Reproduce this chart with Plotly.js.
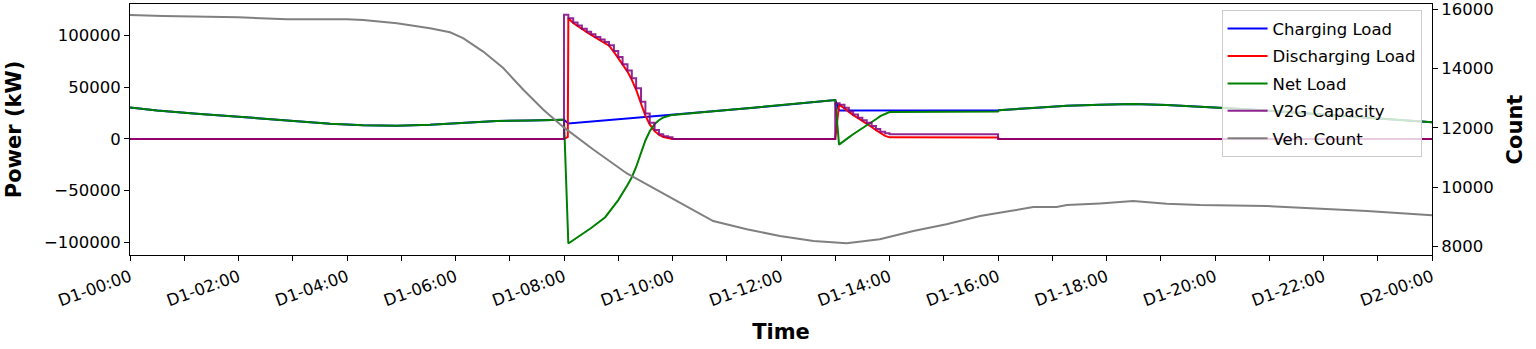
<!DOCTYPE html>
<html>
<head>
<meta charset="utf-8">
<script src="https://cdn.plot.ly/plotly-3.0.1.min.js"></script>
<style>
  html, body { margin: 0; padding: 0; background: #fff; }
  #chart { width: 1536px; height: 349px; }
</style>
</head>
<body>
<div id="chart"></div>
<script>
// time in hours from D1-00:00
const chargeHours = [0, 0.5, 1.23, 2.0, 2.46, 3.0, 3.69, 4.3, 4.92, 5.53, 6.14, 6.76, 7.37, 8.0, 8.08, 8.5, 9.0, 9.5, 10.0, 10.5, 11.0, 11.5, 12.0, 12.5, 13.0, 13.07, 13.5, 14.0, 15.0, 16.0, 16.65, 17.27, 17.88, 18.49, 19.11, 19.72, 20.34, 20.95, 21.57, 22.18, 22.8, 23.41, 24.0];
const chargeLoad = [30400, 27500, 24400, 21300, 19300, 17200, 14700, 13100, 12800, 13800, 15700, 17300, 17900, 18600, 15000, 16800, 18900, 21000, 23200, 25400, 27800, 30200, 32500, 35000, 37500, 27500, 27500, 27600, 27600, 27700, 29900, 32100, 33000, 33700, 32800, 31400, 29500, 27400, 25000, 22700, 20500, 18300, 16000];

const dischargeHours = [0, 8.0, 8.07, 8.08, 8.17, 8.25, 8.33, 8.42, 8.5, 8.58, 8.67, 8.75, 8.83, 8.92, 9.0, 9.08, 9.17, 9.25, 9.33, 9.42, 9.5, 9.58, 9.67, 9.75, 9.83, 9.92, 10.0, 13.0, 13.07, 13.17, 13.25, 13.33, 13.42, 13.5, 13.58, 13.67, 13.75, 13.83, 13.92, 14.0, 16.0, 16.02, 24.0];
const dischargeLoad = [0, 0, 2000, 116500, 112000, 109000, 106000, 103000, 100500, 98000, 95500, 93000, 90000, 84000, 78000, 71000, 65000, 57000, 47500, 34000, 22500, 14000, 7500, 4000, 1800, 800, 0, 0, 33000, 29500, 26000, 23000, 20000, 17500, 15000, 11500, 8500, 5500, 3000, 1500, 1300, 0, 0];

const netHours = [0, 0.5, 1.23, 2.0, 2.46, 3.0, 3.69, 4.3, 4.92, 5.53, 6.14, 6.76, 7.37, 8.0, 8.08, 8.5, 8.76, 9.0, 9.16, 9.25, 9.33, 9.42, 9.5, 9.58, 9.67, 9.75, 9.83, 9.92, 10.0, 10.5, 11.0, 11.5, 12.0, 12.5, 13.0, 13.07, 13.17, 13.25, 13.33, 13.42, 13.5, 13.58, 13.67, 13.75, 13.83, 13.92, 14.0, 15.0, 16.0, 16.02, 16.65, 17.27, 17.88, 18.49, 19.11, 19.72, 20.34, 20.95, 21.57, 22.18, 22.8, 23.41, 24.0];
const netLoad = [30400, 27500, 24400, 21300, 19300, 17200, 14700, 13100, 12800, 13800, 15700, 17300, 17900, 18600, -101000, -86000, -75600, -59100, -45400, -37000, -27100, -13200, -1500, 7400, 14300, 18100, 20700, 22100, 23200, 25400, 27800, 30200, 32500, 35000, 37500, -5500, -2000, 1500, 4500, 7500, 10000, 12500, 16000, 19000, 22000, 24500, 26000, 26200, 26400, 27700, 29900, 32100, 33000, 33700, 32800, 31400, 29500, 27400, 25000, 22700, 20500, 18300, 16000];

// V2G capacity is drawn as a step (value holds until the next time)
const v2gHours = [0, 8.0, 8.08, 8.17, 8.25, 8.33, 8.42, 8.5, 8.58, 8.67, 8.75, 8.83, 8.92, 9.0, 9.08, 9.17, 9.25, 9.33, 9.42, 9.5, 9.58, 9.67, 9.75, 9.83, 9.92, 10.0, 13.0, 13.08, 13.17, 13.25, 13.33, 13.42, 13.5, 13.58, 13.67, 13.75, 13.83, 13.92, 14.0, 16.0, 24.0];
const v2gCapacity = [0, 120000, 116500, 112500, 109500, 106500, 103500, 101000, 98500, 96000, 93500, 90500, 85000, 79000, 72000, 66000, 58500, 49000, 36000, 24500, 15500, 8500, 4500, 2500, 1500, 0, 34500, 33000, 30000, 26500, 23500, 20500, 18000, 15500, 12500, 9500, 7000, 5500, 4500, 0, 0];

const countHours = [0, 0.61, 2.0, 2.89, 4.0, 4.3, 4.92, 5.53, 5.9, 6.14, 6.51, 6.88, 7.25, 7.62, 7.99, 8.54, 9.16, 9.77, 10.14, 10.75, 11.37, 11.98, 12.6, 13.21, 13.82, 14.44, 15.05, 15.67, 16.22, 16.65, 17.08, 17.27, 17.88, 18.49, 19.11, 19.72, 20.95, 22.18, 22.8, 24.0];
const vehCount = [15808, 15775, 15731, 15664, 15664, 15640, 15530, 15362, 15227, 15026, 14575, 14018, 13288, 12616, 12028, 11272, 10466, 9861, 9482, 8863, 8584, 8359, 8191, 8114, 8248, 8527, 8752, 9031, 9199, 9334, 9334, 9401, 9458, 9535, 9448, 9401, 9367, 9256, 9199, 9055];

const xTickHours = [0, 1, 2, 3, 4, 5, 6, 7, 8, 9, 10, 11, 12, 13, 14, 15, 16, 17, 18, 19, 20, 21, 22, 23, 24];
const xTickLabels = ['D1-00:00', '', 'D1-02:00', '', 'D1-04:00', '', 'D1-06:00', '', 'D1-08:00', '', 'D1-10:00', '', 'D1-12:00', '', 'D1-14:00', '', 'D1-16:00', '', 'D1-18:00', '', 'D1-20:00', '', 'D1-22:00', '', 'D2-00:00'];
const powerTicks = [-100000, -50000, 0, 50000, 100000];
const powerLabels = ['\u2212100000', '\u221250000', '0', '50000', '100000'];
const countTicks = [8000, 10000, 12000, 14000, 16000];
const countLabels = ['8000', '10000', '12000', '14000', '16000'];

const font = 'DejaVu Sans, sans-serif';

function line(name, x, y, color, extra = {}) {
  return {
    type: 'scatter',
    mode: 'lines',
    name,
    x,
    y,
    legendgroup: name,
    line: { color, width: 2 },
    ...extra,
  };
}

const traces = [
  line('Charging Load', chargeHours, chargeLoad, '#0000ff'),
  line('Discharging Load', dischargeHours, dischargeLoad, '#ff0000'),
  line('Net Load', netHours, netLoad, '#008000'),
  line('V2G Capacity', v2gHours, v2gCapacity, '#800080', { opacity: 0.85, line: { color: '#800080', width: 2, shape: 'hv' } }),
  line('Veh. Count', countHours, vehCount, '#808080', { yaxis: 'y2' }),
];

const axisBase = {
  showgrid: false,
  zeroline: false,
  showline: true,
  linecolor: '#000',
  linewidth: 1,
  ticks: 'outside',
  ticklen: 5,
  tickwidth: 1,
  tickcolor: '#000',
  tickfont: { family: font, size: 16.5, color: '#000' },
};

const titleFont = { family: font, size: 21, color: '#000' };

const layout = {
  width: 1536,
  height: 349,
  margin: { l: 130, r: 104, t: 4, b: 94 },
  paper_bgcolor: '#fff',
  plot_bgcolor: '#fff',
  font: { family: font, size: 16.5, color: '#000' },
  xaxis: {
    ...axisBase,
    mirror: true,
    range: [0, 24],
    tickvals: xTickHours,
    ticktext: xTickLabels,
    tickangle: -20,
    title: { text: '<b>Time</b>', font: titleFont, standoff: 14 },
  },
  yaxis: {
    ...axisBase,
    range: [-112100, 130300],
    tickvals: powerTicks,
    ticktext: powerLabels,
    title: { text: '<b>Power (kW)</b>', font: titleFont, standoff: 16 },
  },
  yaxis2: {
    ...axisBase,
    overlaying: 'y',
    side: 'right',
    range: [7718, 16178],
    tickvals: countTicks,
    ticktext: countLabels,
    title: { text: '<b>Count</b>', font: titleFont, standoff: 14 },
  },
  showlegend: true,
  legend: {
    x: 0.992,
    y: 0.975,
    xanchor: 'right',
    yanchor: 'top',
    bgcolor: 'rgba(255,255,255,0.8)',
    bordercolor: '#cccccc',
    borderwidth: 1,
    tracegroupgap: 3,
    itemwidth: 40,
    font: { family: font, size: 16.5, color: '#000' },
  },
};

Plotly.newPlot('chart', traces, layout, { staticPlot: true, displayModeBar: false });
</script>
</body>
</html>
